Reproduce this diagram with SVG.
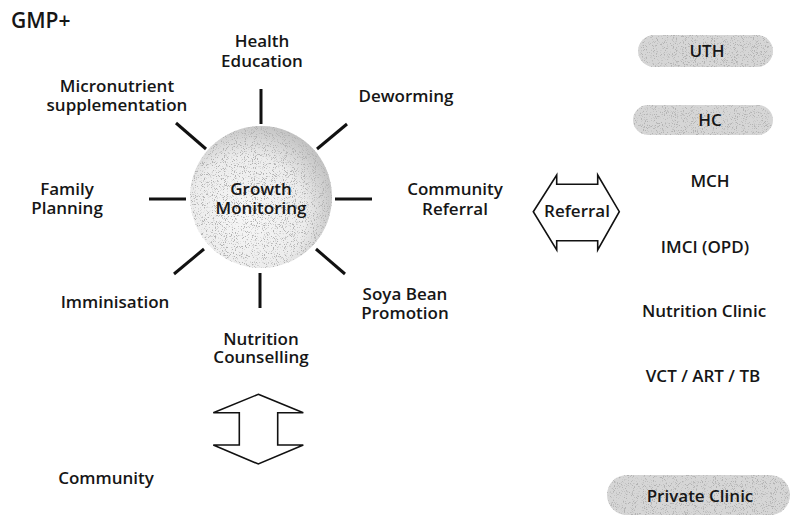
<svg xmlns="http://www.w3.org/2000/svg" width="792" height="517" viewBox="0 0 792 517">
  <style>
    .t { font-family: "Open Sans", "DejaVu Sans", sans-serif; font-weight: 600; font-size: 17px; fill: #161616; text-anchor: middle; }
    .spoke { stroke: #111; stroke-width: 3; stroke-linecap: butt; fill: none; }
    .arrow { fill: #fff; stroke: #111; stroke-width: 1.6; stroke-linejoin: miter; }
    .pill { fill: #d6d6d6; filter: url(#grain); }
  </style>
  <defs>
    <!-- sparse grey stipple laid over the hub and the shaded service pills -->
    <filter id="grain" x="-5%" y="-5%" width="110%" height="110%">
      <feTurbulence type="fractalNoise" baseFrequency="1.1" numOctaves="2" seed="4" result="noise"/>
      <feColorMatrix in="noise" type="matrix"
        values="0 0 0 0 0.45
                0 0 0 0 0.45
                0 0 0 0 0.45
                7 0 0 0 -3.9" result="dots"/>
      <feComposite in="dots" in2="SourceAlpha" operator="in" result="clipDots"/>
      <feMerge>
        <feMergeNode in="SourceGraphic"/>
        <feMergeNode in="clipDots"/>
      </feMerge>
    </filter>
    <!-- hub shading: light toward lower left, darker rim toward upper right -->
    <radialGradient id="hubShade" cx="0.4" cy="0.62" r="0.68">
      <stop offset="0" stop-color="#f7f7f7"/>
      <stop offset="0.6" stop-color="#ececec"/>
      <stop offset="1" stop-color="#bdbdbd"/>
    </radialGradient>
  </defs>

  <rect width="792" height="517" fill="#fff"/>

  <text class="t" x="11" y="28" style="text-anchor:start;font-size:21px">GMP+</text>

  <!-- central hub -->
  <g id="hub">
    <circle cx="261" cy="197" r="71" fill="url(#hubShade)" filter="url(#grain)"/>
    <text class="t" x="261" y="195">Growth</text>
    <text class="t" x="261" y="214">Monitoring</text>
  </g>

  <!-- spokes radiating from the hub -->
  <g id="connectors">
    <line class="spoke" x1="261" y1="89" x2="261" y2="124"/>
    <line class="spoke" x1="347" y1="124" x2="317" y2="149"/>
    <line class="spoke" x1="335" y1="199" x2="372" y2="199"/>
    <line class="spoke" x1="316" y1="249" x2="345" y2="274"/>
    <line class="spoke" x1="260" y1="273" x2="260" y2="308"/>
    <line class="spoke" x1="204" y1="249" x2="174" y2="274"/>
    <line class="spoke" x1="149" y1="199" x2="186" y2="199"/>
    <line class="spoke" x1="176" y1="123" x2="206" y2="149"/>
  </g>

  <g id="health-education">
    <text class="t" x="262" y="47">Health</text>
    <text class="t" x="262" y="67">Education</text>
  </g>
  <g id="micronutrient">
    <text class="t" x="117" y="92">Micronutrient</text>
    <text class="t" x="117" y="111">supplementation</text>
  </g>
  <g id="deworming">
    <text class="t" x="406" y="102">Deworming</text>
  </g>
  <g id="family-planning">
    <text class="t" x="67" y="195">Family</text>
    <text class="t" x="67" y="214">Planning</text>
  </g>
  <g id="community-referral">
    <text class="t" x="455" y="195">Community</text>
    <text class="t" x="455" y="215">Referral</text>
  </g>
  <g id="imminisation">
    <text class="t" x="115" y="308">Imminisation</text>
  </g>
  <g id="soya-bean">
    <text class="t" x="405" y="300">Soya Bean</text>
    <text class="t" x="405" y="319">Promotion</text>
  </g>
  <g id="nutrition-counselling">
    <text class="t" x="261" y="345">Nutrition</text>
    <text class="t" x="261" y="363">Counselling</text>
  </g>

  <!-- two-way link to the community -->
  <g id="community-link">
    <polygon class="arrow" points="258.3,394.3 303.3,412.7 277.7,412.7 277.7,445 303.3,445 258.3,464 213.3,445 239.3,445 239.3,412.7 213.3,412.7"/>
  </g>
  <g id="community">
    <text class="t" x="106" y="484">Community</text>
  </g>

  <!-- two-way referral link -->
  <g id="referral">
    <polygon class="arrow" points="533.3,211.7 556.7,175 556.7,184.3 597.7,184.3 597.7,175 619.3,211.7 597.7,250 597.7,240.7 556.7,240.7 556.7,250"/>
    <text class="t" x="577" y="217">Referral</text>
  </g>

  <!-- service levels -->
  <g id="uth">
    <rect class="pill" x="638" y="35" width="135" height="32" rx="16"/>
    <text class="t" x="707" y="57">UTH</text>
  </g>
  <g id="hc">
    <rect class="pill" x="633" y="105" width="140" height="30" rx="15"/>
    <text class="t" x="710" y="126">HC</text>
  </g>
  <g id="mch">
    <text class="t" x="710" y="187">MCH</text>
  </g>
  <g id="imci">
    <text class="t" x="705" y="253">IMCI (OPD)</text>
  </g>
  <g id="nutrition-clinic">
    <text class="t" x="704" y="317">Nutrition Clinic</text>
  </g>
  <g id="vct">
    <text class="t" x="703" y="382">VCT / ART / TB</text>
  </g>
  <g id="private-clinic">
    <rect class="pill" x="607" y="475" width="183" height="40" rx="20"/>
    <text class="t" x="700" y="502">Private Clinic</text>
  </g>
</svg>
